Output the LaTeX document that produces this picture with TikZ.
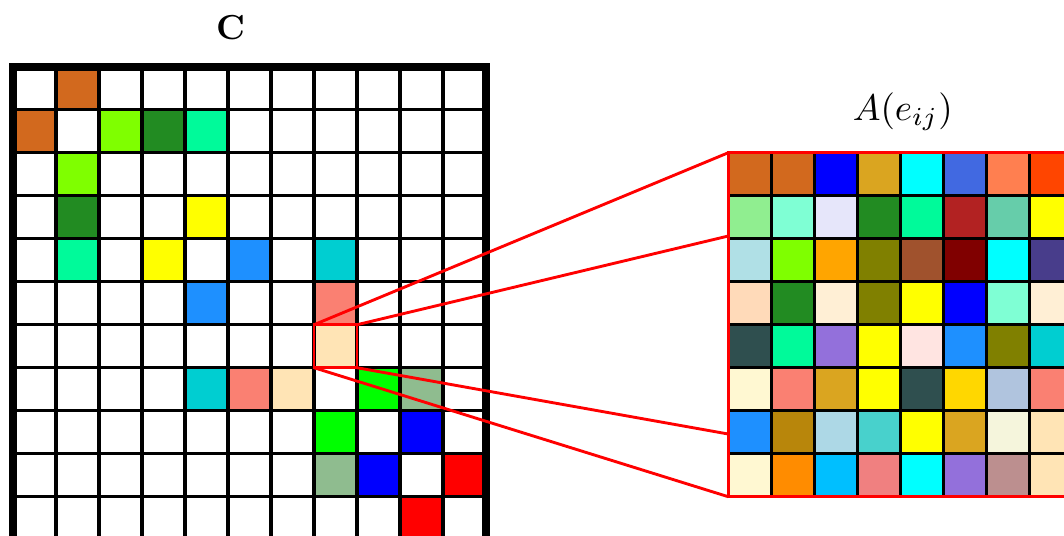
\documentclass[tikz,border=0pt]{standalone}
\usepackage{graphicx}
\usepackage{tikz}
\usetikzlibrary{positioning}
\definecolor{chocolate}{HTML}{D2691E}
\definecolor{chartreuse}{HTML}{7FFF00}
\definecolor{forestgreen}{HTML}{228B22}
\definecolor{springgreen}{HTML}{00FA9A}
\definecolor{yellow}{HTML}{FFFF00}
\definecolor{dodgerblue}{HTML}{1E90FF}
\definecolor{darkturquoise}{HTML}{00CED1}
\definecolor{salmon}{HTML}{FA8072}
\definecolor{moccasin}{HTML}{FFE4B5}
\definecolor{lime}{HTML}{00FF00}
\definecolor{darkseagreen}{HTML}{8FBC8F}
\definecolor{blue}{HTML}{0000FF}
\definecolor{red}{HTML}{FF0000}
\definecolor{goldenrod}{HTML}{DAA520}
\definecolor{cyan}{HTML}{00FFFF}
\definecolor{royalblue}{HTML}{4169E1}
\definecolor{coral}{HTML}{FF7F50}
\definecolor{orangered}{HTML}{FF4500}
\definecolor{lightgreen}{HTML}{90EE90}
\definecolor{aquamarine}{HTML}{7FFFD4}
\definecolor{lavender}{HTML}{E6E6FA}
\definecolor{firebrick}{HTML}{B22222}
\definecolor{medaquamarine}{HTML}{66CDAA}
\definecolor{powderblue}{HTML}{B0E0E6}
\definecolor{orange}{HTML}{FFA500}
\definecolor{olive}{HTML}{808000}
\definecolor{sienna}{HTML}{A0522D}
\definecolor{maroon}{HTML}{800000}
\definecolor{darkslateblue}{HTML}{483D8B}
\definecolor{peachpuff}{HTML}{FFDAB9}
\definecolor{papayawhip}{HTML}{FFEFD5}
\definecolor{darkslategray}{HTML}{2F4F4F}
\definecolor{mediumpurple}{HTML}{9370DB}
\definecolor{mistyrose}{HTML}{FFE4E1}
\definecolor{lemonchiffon}{HTML}{FFF8D2}
\definecolor{gold}{HTML}{FFD700}
\definecolor{lightsteelblue}{HTML}{B0C4DE}
\definecolor{darkgoldenrod}{HTML}{B8860B}
\definecolor{lightblue}{HTML}{ADD8E6}
\definecolor{medturquoise}{HTML}{48D1CC}
\definecolor{beige}{HTML}{F5F5DC}
\definecolor{darkorange}{HTML}{FF8C00}
\definecolor{deepskyblue}{HTML}{00BFFF}
\definecolor{lightcoral}{HTML}{F08080}
\definecolor{rosybrown}{HTML}{BC8F8F}

\begin{document}
\begin{tikzpicture}[cell/.style={draw=black,line width=2.3pt},
  zoomline/.style={draw=red,line width=1.9pt}]
\useasboundingbox (-0.302,0.109) rectangle (24.44,12.551);
\clip (-0.302,0.109) rectangle (24.44,12.551);
% matrix C, 11x11, mostly empty
\foreach \x in {0,...,10}
  \foreach \y in {0,...,10}
    \draw[cell,fill=white] (\x,\y) rectangle ++(1,1);
\foreach \r/\c/\col in {1/2/chocolate,2/1/chocolate,2/3/chartreuse,2/4/forestgreen,
  2/5/springgreen,3/2/chartreuse,4/2/forestgreen,4/5/yellow,5/2/springgreen,
  5/4/yellow,5/6/dodgerblue,5/8/darkturquoise,6/5/dodgerblue,6/8/salmon,
  7/8/moccasin,8/5/darkturquoise,8/6/salmon,8/7/moccasin,8/9/lime,
  8/10/darkseagreen,9/8/lime,9/10/blue,10/8/darkseagreen,10/9/blue,
  10/11/red,11/10/red}
  \draw[cell,fill=\col] (\c-1,11-\r) rectangle ++(1,1);
\draw[line width=5.5pt] (0,0) rectangle (11,11);
\node (ctitle) at (5.07,11.9) {\scalebox{2.3}{\textbf{C}}};
% zoomed block A(e_ij)
\foreach \row [count=\i] in {
  {chocolate,chocolate,blue,goldenrod,cyan,royalblue,coral,orangered},
  {lightgreen,aquamarine,lavender,forestgreen,springgreen,firebrick,medaquamarine,yellow},
  {powderblue,chartreuse,orange,olive,sienna,maroon,cyan,darkslateblue},
  {peachpuff,forestgreen,papayawhip,olive,yellow,blue,aquamarine,papayawhip},
  {darkslategray,springgreen,mediumpurple,yellow,mistyrose,dodgerblue,olive,darkturquoise},
  {lemonchiffon,salmon,goldenrod,yellow,darkslategray,gold,lightsteelblue,salmon},
  {dodgerblue,darkgoldenrod,lightblue,medturquoise,yellow,goldenrod,beige,moccasin},
  {lemonchiffon,darkorange,deepskyblue,lightcoral,cyan,mediumpurple,rosybrown,moccasin}}
  \foreach \col [count=\j] in \row
    \draw[cell,fill=\col] (15.635+\j,9-\i) rectangle ++(1,1);
\draw[red,line width=2pt] (16.635,1) rectangle (24.635,9);
\node (atitle) at (20.69,9.95) {\scalebox{2.45}{$A(e_{ij})$}};
% zoom connectors
\coordinate (hltl) at (7,5);
\coordinate (hltr) at (8,5);
\coordinate (hlbl) at (7,4);
\coordinate (hlbr) at (8,4);
\coordinate (ztl) at (16.635,9);
\coordinate (ztr) at (16.635,7.063);
\coordinate (zbl) at (16.635,1);
\coordinate (zbr) at (16.635,2.458);
\draw[zoomline] (hltl) rectangle (hlbr);
\draw[zoomline] (hltl)--(ztl) (hltr)--(ztr) (hlbl)--(zbl) (hlbr)--(zbr);
\end{tikzpicture}
\end{document}
